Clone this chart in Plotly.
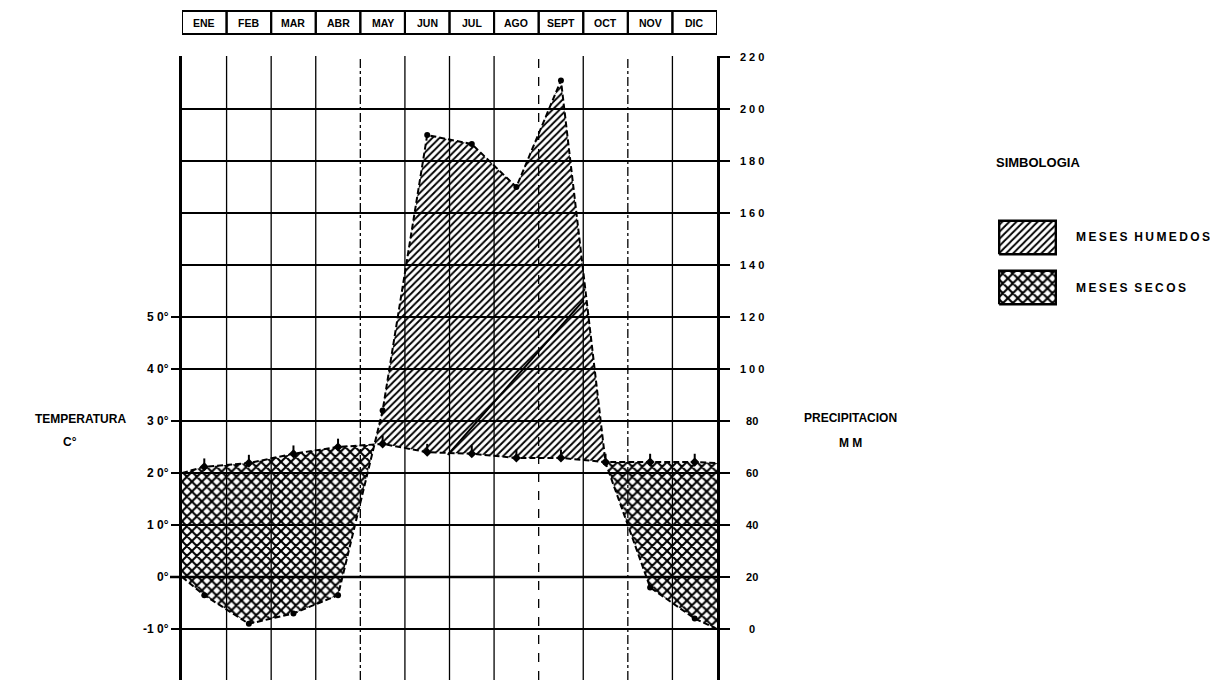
import numpy as np
import plotly.graph_objects as go

# ---------------- data ----------------
months = ["ENE", "FEB", "MAR", "ABR", "MAY", "JUN", "JUL", "AGO", "SEPT", "OCT", "NOV", "DIC"]
precip_mm = [13, 2, 6, 13, 84, 190, 186.5, 170, 211, 64, 16, 4]
temp_c = [21.2, 21.9, 23.7, 25.0, 25.6, 24.0, 23.7, 22.9, 22.9, 22.1, 22.1, 22.1]
precip_edges = [20, 0]        # curve values at the left / right frame
temp_edges = [20, 21.9]
trend_pos = [5.96, 9.01]      # solid line drawn inside the wet area (month units)
trend_mm = [67, 126.5]

precip_ticks = list(range(0, 221, 20))
precip_ticktext = ["\u2007\u20080", "\u200720", "\u200740", "\u200760", "\u200780",
                   "1 0 0", "1 2 0", "1 4 0", "1 6 0", "1 8 0", "2 0 0", "2 2 0"]
temp_ticks = [-10, 0, 10, 20, 30, 40, 50]
temp_ticktext = ["-1 0°", "0°", "1 0°", "2 0°", "3 0°", "4 0°", "5 0°"]

# ---------------- geometry helpers ----------------
W, H = 1210, 680
FONT = "Liberation Sans"


def t_to_mm(t):
    return 2 * (t + 10)   # 10 °C = 20 mm, -10 °C = 0 mm


pos = [i + 0.5 for i in range(len(months))]
xs = np.array([0.0] + pos + [float(len(months))])
P = np.array([precip_edges[0]] + precip_mm + [precip_edges[1]], dtype=float)
T = np.array([temp_edges[0]] + temp_c + [temp_edges[1]], dtype=float)
Tmm = t_to_mm(T)


def regions(x, a, b):
    d = a - b
    X, A, B = [], [], []
    for i in range(len(x)):
        if i > 0 and d[i - 1] * d[i] < 0:
            t = d[i - 1] / (d[i - 1] - d[i])
            xc = x[i - 1] + t * (x[i] - x[i - 1])
            yc = a[i - 1] + t * (a[i] - a[i - 1])
            X.append(xc); A.append(yc); B.append(yc)
        X.append(x[i]); A.append(a[i]); B.append(b[i])
    polys, cur = [], None
    for xx, aa, bb in zip(X, A, B):
        if aa >= bb - 1e-9:
            cur = (cur or []) + [(xx, aa, bb)]
        else:
            if cur and len(cur) > 1:
                polys.append(cur)
            cur = None
    if cur and len(cur) > 1:
        polys.append(cur)
    out = []
    for p in polys:
        px = [q[0] for q in p] + [q[0] for q in p[::-1]]
        py = [q[1] for q in p] + [q[2] for q in p[::-1]]
        out.append((px, py))
    return out


fig = go.Figure()

wet_pat = dict(shape="/", size=5, solidity=0.38, fgcolor="black", bgcolor="rgba(0,0,0,0)")
dry_pat = dict(shape="x", size=7, solidity=0.5, fgcolor="black", bgcolor="rgba(0,0,0,0)")

for px, py in regions(xs, P, Tmm):
    fig.add_trace(go.Scatter(x=px, y=py, mode="lines", fill="toself", fillcolor="rgba(0,0,0,0)",
                             fillpattern=wet_pat, line=dict(width=0), hoverinfo="skip",
                             showlegend=False))
for px, py in regions(xs, Tmm, P):
    fig.add_trace(go.Scatter(x=px, y=py, mode="lines", fill="toself", fillcolor="rgba(0,0,0,0)",
                             fillpattern=dry_pat, line=dict(width=0), hoverinfo="skip",
                             showlegend=False))

# precipitation curve
fig.add_trace(go.Scatter(x=xs, y=P, mode="lines", line=dict(color="black", width=2, dash="6px,3px"),
                         showlegend=False, hoverinfo="skip"))
fig.add_trace(go.Scatter(x=pos, y=precip_mm, mode="markers",
                         marker=dict(color="black", size=6), showlegend=False))
# temperature curve (on temperature axis)
fig.add_trace(go.Scatter(x=xs, y=T, yaxis="y2", mode="lines",
                         line=dict(color="black", width=2, dash="6px,3px"),
                         showlegend=False, hoverinfo="skip"))
fig.add_trace(go.Scatter(x=pos, y=temp_c, yaxis="y2", mode="markers",
                         marker=dict(color="black", size=7, symbol="diamond"),
                         error_y=dict(type="constant", symmetric=False, value=1.6, valueminus=0,
                                      color="black", thickness=2, width=0),
                         showlegend=False))
# solid line inside wet area
fig.add_trace(go.Scatter(x=trend_pos, y=trend_mm, mode="lines", line=dict(color="black", width=2),
                         showlegend=False, hoverinfo="skip"))

# legend boxes (own small axes)
box_top = [0.6, 1.0]
box_bot = [0.0, 0.4]
for (y0, y1), pat in [(box_top, wet_pat), (box_bot, dry_pat)]:
    fig.add_trace(go.Scatter(x=[0, 1, 1, 0, 0], y=[y0, y0, y1, y1, y0], xaxis="x2", yaxis="y3",
                             mode="lines", fill="toself", fillcolor="rgba(0,0,0,0)", fillpattern=pat,
                             line=dict(color="black", width=2.5), showlegend=False, hoverinfo="skip"))

# ---------------- layout ----------------
x_dom = [182 / W, 717 / W]
y_top_px = 56
y_dom = [0, (H - y_top_px) / H]
mm_per_px = 1 / 2.6
mm_range = [-(H - 629) * mm_per_px, (629 - y_top_px) * mm_per_px]
t_range = [r / 2 - 10 for r in mm_range]

shapes = []
dash_styles = {4: "dashdot", 8: "dash", 10: "dashdot"}
for k in range(1, len(months)):
    shapes.append(dict(type="line", xref="x", yref="paper", x0=k, x1=k, y0=0, y1=y_dom[1],
                       line=dict(color="black", width=1.3, dash=dash_styles.get(k, "solid")),
                       layer="above"))
# heavier 0 °C line
shapes.append(dict(type="line", xref="paper", yref="y", x0=170 / W, x1=x_dom[1], y0=20, y1=20,
                   line=dict(color="black", width=2.5), layer="above"))
# month header boxes
hy0, hy1 = (H - 34) / H, (H - 11) / H
for i in range(len(months)):
    shapes.append(dict(type="rect", xref="x", yref="paper", x0=i, x1=i + 1, y0=hy0, y1=hy1,
                       line=dict(color="black", width=2)))

annotations = []
for i, m in enumerate(months):
    annotations.append(dict(x=pos[i], y=(hy0 + hy1) / 2, xref="x", yref="paper", text=m, showarrow=False,
                            xanchor="center", yanchor="middle",
                            font=dict(family=FONT, size=10.5, color="black", weight="bold")))


def txt(x, y, s, size=12, anchor="center"):
    annotations.append(dict(x=x / W, y=(H - y) / H, xref="paper", yref="paper", text=s, showarrow=False,
                            xanchor=anchor, yanchor="middle",
                            font=dict(family=FONT, size=size, color="black", weight="bold")))


txt(80, 419, "TEMPERATURA")
txt(70, 442, "C°")
txt(850, 418, "PRECIPITACION")
txt(850, 443, "M M")
txt(994, 162, "SIMBOLOGIA", size=13, anchor="left")
sp = "\u2009"
txt(1074, 237, sp.join("MESES") + "  " + sp.join("HUMEDOS"), anchor="left")
txt(1074, 288, sp.join("MESES") + "  " + sp.join("SECOS"), anchor="left")

tickfont = dict(family=FONT, size=11, color="black", weight="bold")
tickfont_l = dict(family=FONT, size=12, color="black", weight="bold")

fig.update_layout(
    template="none",
    width=W, height=H,
    margin=dict(l=0, r=0, t=0, b=0),
    paper_bgcolor="white", plot_bgcolor="white",
    showlegend=False,
    xaxis=dict(domain=x_dom, range=[0, len(months)], showgrid=False, zeroline=False,
               showticklabels=False, ticks="", showline=False, automargin=False),
    yaxis=dict(domain=y_dom, range=mm_range, side="right", tickvals=precip_ticks,
               ticktext=precip_ticktext, ticks="outside", ticklen=10, tickwidth=2, tickcolor="black",
               tickfont=tickfont, ticklabelstandoff=8, showgrid=True, gridcolor="black", gridwidth=2,
               zeroline=False, showline=True, mirror=True, linecolor="black", linewidth=2.5,
               automargin=False),
    yaxis2=dict(overlaying="y", side="left", range=t_range, tickvals=temp_ticks,
                ticktext=temp_ticktext, ticks="outside", ticklen=10, tickwidth=2, tickcolor="black",
                tickfont=tickfont_l, showgrid=False, zeroline=False, showline=False, automargin=False),
    xaxis2=dict(domain=[998 / W, 1057 / W], range=[-0.02, 1.02], visible=False, anchor="y3"),
    yaxis3=dict(domain=[(H - 306) / H, (H - 219) / H], range=[-0.02, 1.02], visible=False, anchor="x2"),
    shapes=shapes,
    annotations=annotations,
)

fig.write_html("out.html", config={"displayModeBar": False},
               post_script="document.body.style.margin='0';document.body.style.overflow='hidden';")
